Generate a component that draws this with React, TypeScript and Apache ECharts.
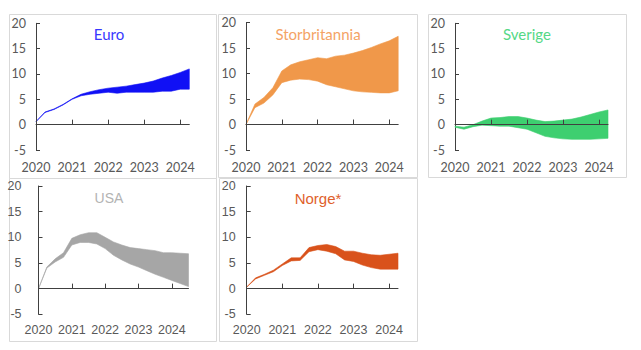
import React, { useEffect, useRef } from "react";
import * as echarts from "echarts";

const quarters = [2020, 2020.25, 2020.5, 2020.75, 2021, 2021.25, 2021.5, 2021.75, 2022, 2022.25, 2022.5, 2022.75, 2023, 2023.25, 2023.5, 2023.75, 2024, 2024.25];
const quartersUSA = [...quarters, 2024.5];
const yearTicks = [2020, 2021, 2022, 2023, 2024];

const euroUpper = [0.6, 2.5, 3.1, 4.0, 5.1, 6.0, 6.5, 6.9, 7.2, 7.4, 7.6, 7.9, 8.2, 8.6, 9.2, 9.7, 10.3, 11.0];
const euroLower = [0.6, 2.4, 3.0, 3.9, 5.0, 5.7, 6.0, 6.2, 6.4, 6.2, 6.4, 6.4, 6.4, 6.4, 6.6, 6.6, 7.0, 7.0];

const ukUpper = [0, 4.0, 5.3, 7.2, 10.5, 11.7, 12.3, 12.7, 13.1, 12.9, 13.4, 13.6, 14.0, 14.5, 15.1, 15.8, 16.4, 17.3];
const ukLower = [0, 3.3, 4.2, 5.8, 8.2, 8.7, 8.9, 8.8, 8.5, 7.8, 7.4, 7.0, 6.6, 6.4, 6.3, 6.2, 6.2, 6.6];

const seUpper = [-0.3, -0.5, 0.0, 0.7, 1.3, 1.4, 1.6, 1.6, 1.3, 0.9, 0.6, 0.7, 0.9, 1.1, 1.5, 2.0, 2.5, 2.9];
const seLower = [-0.5, -0.9, -0.4, -0.1, -0.2, -0.3, -0.3, -0.6, -0.9, -1.6, -2.3, -2.6, -2.8, -2.9, -2.9, -2.9, -2.8, -2.7];

const usUpper = [0, 4.2, 5.8, 7.0, 9.8, 10.5, 10.9, 10.9, 10.0, 9.1, 8.5, 8.0, 7.8, 7.6, 7.4, 7.0, 7.0, 6.9, 6.8];
const usLower = [0, 4.0, 5.2, 6.1, 8.5, 9.0, 9.0, 8.7, 7.8, 6.5, 5.6, 4.8, 4.2, 3.5, 2.8, 2.2, 1.6, 1.0, 0.4];

const noUpper = [0.3, 2.1, 2.8, 3.6, 4.8, 6.0, 6.0, 8.0, 8.4, 8.6, 8.2, 7.3, 7.3, 6.9, 6.6, 6.5, 6.7, 6.9];
const noLower = [0.3, 1.9, 2.6, 3.3, 4.5, 5.4, 5.5, 7.2, 7.6, 7.3, 6.8, 5.6, 5.3, 4.6, 4.1, 3.8, 3.8, 3.8];

const panels = [
  { name: "Euro", x: quarters, upper: euroUpper, lower: euroLower, fill: "#1010f5", titleColor: "#3737ff", grid: { left: 36, top: 23.3, width: 153.3, height: 126.7 }, xMax: 2024.25, font: "Lato", titleSize: 15, title: [109, 34], labelMargin: 11, yMargin: 10 },
  { name: "Storbritannia", x: quarters, upper: ukUpper, lower: ukLower, fill: "#f0984a", titleColor: "#f4a365", grid: { left: 246, top: 22.5, width: 152.2, height: 127.5 }, xMax: 2024.25, font: "Lato", titleSize: 15, title: [318, 34], labelMargin: 11, yMargin: 10 },
  { name: "Sverige", x: quarters, upper: seUpper, lower: seLower, fill: "#3ecf70", titleColor: "#55d886", grid: { left: 455, top: 23.3, width: 153, height: 126.7 }, xMax: 2024.25, font: "Lato", titleSize: 15, title: [527, 34], labelMargin: 11, yMargin: 10 },
  { name: "USA", x: quartersUSA, upper: usUpper, lower: usLower, fill: "#a6a6a6", titleColor: "#b3b3b3", grid: { left: 38.5, top: 186, width: 150, height: 128.3 }, xMax: 2024.5, font: "Liberation Sans", titleSize: 14, title: [109, 198], labelMargin: 9, yMargin: 17 },
  { name: "Norge*", x: quarters, upper: noUpper, lower: noLower, fill: "#d9521b", titleColor: "#e0612c", grid: { left: 246.7, top: 186, width: 151.3, height: 128.3 }, xMax: 2024.25, font: "Liberation Sans", titleSize: 15, title: [318, 198], labelMargin: 9, yMargin: 11 },
];

const borders = [
  [9, 14, 207, 164],
  [218, 14, 199, 163],
  [428, 14, 198, 163],
  [9, 178, 207, 163],
  [219, 178, 198, 163],
];

export default function App() {
  const ref = useRef<HTMLDivElement>(null);
  useEffect(() => {
    if (!ref.current) return;
    const chart = echarts.init(ref.current, undefined, { renderer: "svg" });
    const axisColor = "#404040";
    const labelColor = "#595959";
    const option: any = {
      animation: false,
      backgroundColor: "#ffffff",
      grid: panels.map((p) => ({ ...p.grid })),
      xAxis: panels.map((p, i) => ({
        type: "value",
        gridIndex: i,
        min: 2020,
        max: p.xMax,
        interval: 1,
        z: 5,
        axisLine: { onZero: true, lineStyle: { color: axisColor, width: 1 } },
        axisTick: { show: true, inside: true, length: 5, customValues: yearTicks, lineStyle: { color: axisColor } },
        axisLabel: { customValues: yearTicks, margin: p.labelMargin, color: labelColor, fontSize: 12.5, fontFamily: p.font, formatter: (v: number) => String(v) },
        splitLine: { show: false },
      })),
      yAxis: panels.map((p, i) => ({
        type: "value",
        gridIndex: i,
        min: -5,
        max: 20,
        interval: 5,
        axisLine: { show: true, lineStyle: { color: axisColor, width: 1 } },
        axisTick: { show: true, inside: true, length: 4, lineStyle: { color: axisColor } },
        axisLabel: { margin: p.yMargin, color: labelColor, fontSize: 12.5, fontFamily: p.font },
        splitLine: { show: false },
      })),
      series: panels.map((p, i) => {
        const rows = p.x.map((x, k) => [x, p.lower[k], p.upper[k]]);
        return {
          type: "custom",
          xAxisIndex: i,
          yAxisIndex: i,
          z: 2,
          encode: { x: 0, y: [1, 2] },
          data: rows,
          renderItem: (params: any, api: any) => {
            if (params.dataIndex !== 0) return null;
            const top = rows.map((r) => api.coord([r[0], r[2]]));
            const bottom = rows.map((r) => api.coord([r[0], r[1]])).reverse();
            return {
              type: "polygon",
              shape: { points: [...top, ...bottom] },
              style: { fill: p.fill, stroke: p.fill, lineWidth: 0.6 },
            };
          },
        };
      }),
      graphic: [
        ...borders.map((b) => ({
          type: "rect",
          shape: { x: b[0] + 0.5, y: b[1] + 0.5, width: b[2], height: b[3] },
          style: { fill: "none", stroke: "#d9d9d9", lineWidth: 1 },
          z: 0,
          silent: true,
        })),
        ...panels.map((p) => ({
          type: "text",
          x: p.title[0],
          y: p.title[1],
          style: {
            text: p.name,
            fill: p.titleColor,
            font: `${p.titleSize}px "${p.font}", sans-serif`,
            align: "center",
            verticalAlign: "middle",
          },
          z: 10,
        })),
      ],
    };
    chart.setOption(option);
    return () => chart.dispose();
  }, []);
  return (
    <div
      ref={ref}
      style={{ position: "fixed", left: 0, top: 0, width: 641, height: 350, background: "#fff" }}
    />
  );
}
